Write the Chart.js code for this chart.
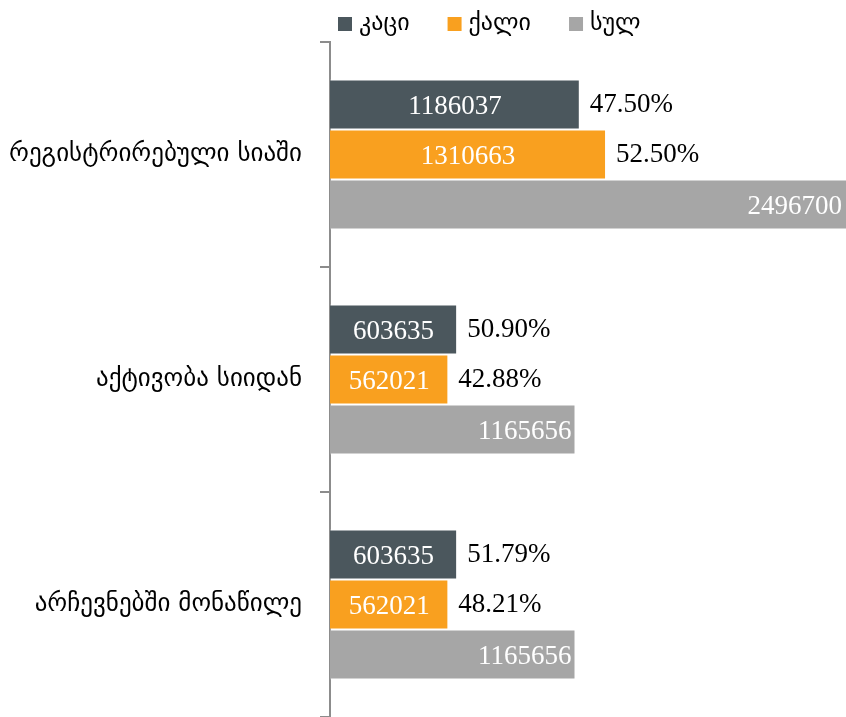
<!DOCTYPE html>
<html>
<head>
<meta charset="utf-8">
<script src="https://cdn.jsdelivr.net/npm/chart.js@4.4.0/dist/chart.umd.min.js"></script>
<style>
  html, body { margin: 0; padding: 0; background: #fff; }
  #wrap { width: 846px; height: 717px; }
</style>
</head>
<body>
<div id="wrap"><canvas id="myChartBar"></canvas></div>
<script>
const categories = ['რეგისტრირებული სიაში', 'აქტივობა სიიდან', 'არჩევნებში მონაწილე'];
const seriesNames = ['კაცი', 'ქალი', 'სულ'];
const menValues = [1186037, 603635, 603635];
const womenValues = [1310663, 562021, 562021];
const totalValues = [2496700, 1165656, 1165656];
const menPercent = ['47.50%', '50.90%', '51.79%'];
const womenPercent = ['52.50%', '42.88%', '48.21%'];

const colors = ['#4b575d', '#f9a01f', '#a6a6a6'];
const numFont = '27px "Liberation Serif", serif';
const geoFont = '24px "DejaVu Sans", sans-serif';

// draws numbers inside bars and percentages after the first two series
const barLabels = {
  id: 'barLabels',
  afterDatasetsDraw(chart) {
    const ctx = chart.ctx;
    const area = chart.chartArea;
    const pcts = [menPercent, womenPercent];
    ctx.save();
    ctx.font = numFont;
    ctx.textBaseline = 'middle';
    chart.data.datasets.forEach((ds, di) => {
      chart.getDatasetMeta(di).data.forEach((bar, i) => {
        const end = Math.min(bar.x, area.right);
        ctx.fillStyle = '#fff';
        if (di < 2) {
          ctx.textAlign = 'center';
          ctx.fillText(String(ds.data[i]), (bar.base + end) / 2, bar.y + 2);
          ctx.fillStyle = '#000';
          ctx.textAlign = 'left';
          ctx.fillText(pcts[di][i], end + 10, bar.y);
        } else {
          ctx.textAlign = 'right';
          ctx.fillText(String(ds.data[i]), end - 4, bar.y + 2);
        }
      });
    });
    ctx.restore();
  }
};

// legend drawn at the top, starting near the axis
const topLegend = {
  id: 'topLegend',
  afterDraw(chart) {
    const ctx = chart.ctx;
    let x = 338;
    ctx.save();
    ctx.font = geoFont;
    ctx.textBaseline = 'middle';
    ctx.textAlign = 'left';
    chart.data.datasets.forEach((ds) => {
      ctx.fillStyle = ds.backgroundColor;
      ctx.fillRect(x, 17, 14, 14);
      ctx.fillStyle = '#000';
      ctx.fillText(ds.label, x + 21, 24);
      x += 21 + ctx.measureText(ds.label).width + 38;
    });
    ctx.restore();
  }
};

const data1 = {
  labels: categories,
  datasets: [
    { label: seriesNames[0], data: menValues, backgroundColor: colors[0] },
    { label: seriesNames[1], data: womenValues, backgroundColor: colors[1] },
    { label: seriesNames[2], data: totalValues, backgroundColor: colors[2] }
  ]
};

const config1 = {
  type: 'bar',
  data: data1,
  options: {
    indexAxis: 'y',
    responsive: true,
    maintainAspectRatio: false,
    animation: false,
    datasets: {
      bar: {
        categoryPercentage: 0.667,
        barPercentage: 1,
        borderWidth: 1,
        borderColor: 'rgba(255,255,255,0.5)'
      }
    },
    layout: { padding: { top: 42, right: 0, bottom: 0, left: 0 } },
    plugins: {
      legend: { display: false },
      tooltip: { enabled: false }
    },
    scales: {
      x: {
        display: false,
        min: 0,
        max: 2450000
      },
      y: {
        afterFit(scale) {
          scale.width = 330;
          scale.paddingTop = 0;
          scale.paddingBottom = 0;
        },
        border: { display: true, color: '#8c8c8c', width: 2 },
        grid: {
          offset: true,
          drawOnChartArea: false,
          drawTicks: true,
          tickLength: 10,
          color: '#8c8c8c',
          lineWidth: 2
        },
        ticks: {
          color: '#000',
          padding: 18,
          font: { family: '"DejaVu Sans", sans-serif', size: 25 }
        }
      }
    }
  },
  plugins: [barLabels, topLegend]
};

const ctx1 = document.getElementById('myChartBar').getContext('2d');
const myChart1 = new Chart(ctx1, config1);
</script>
</body>
</html>
